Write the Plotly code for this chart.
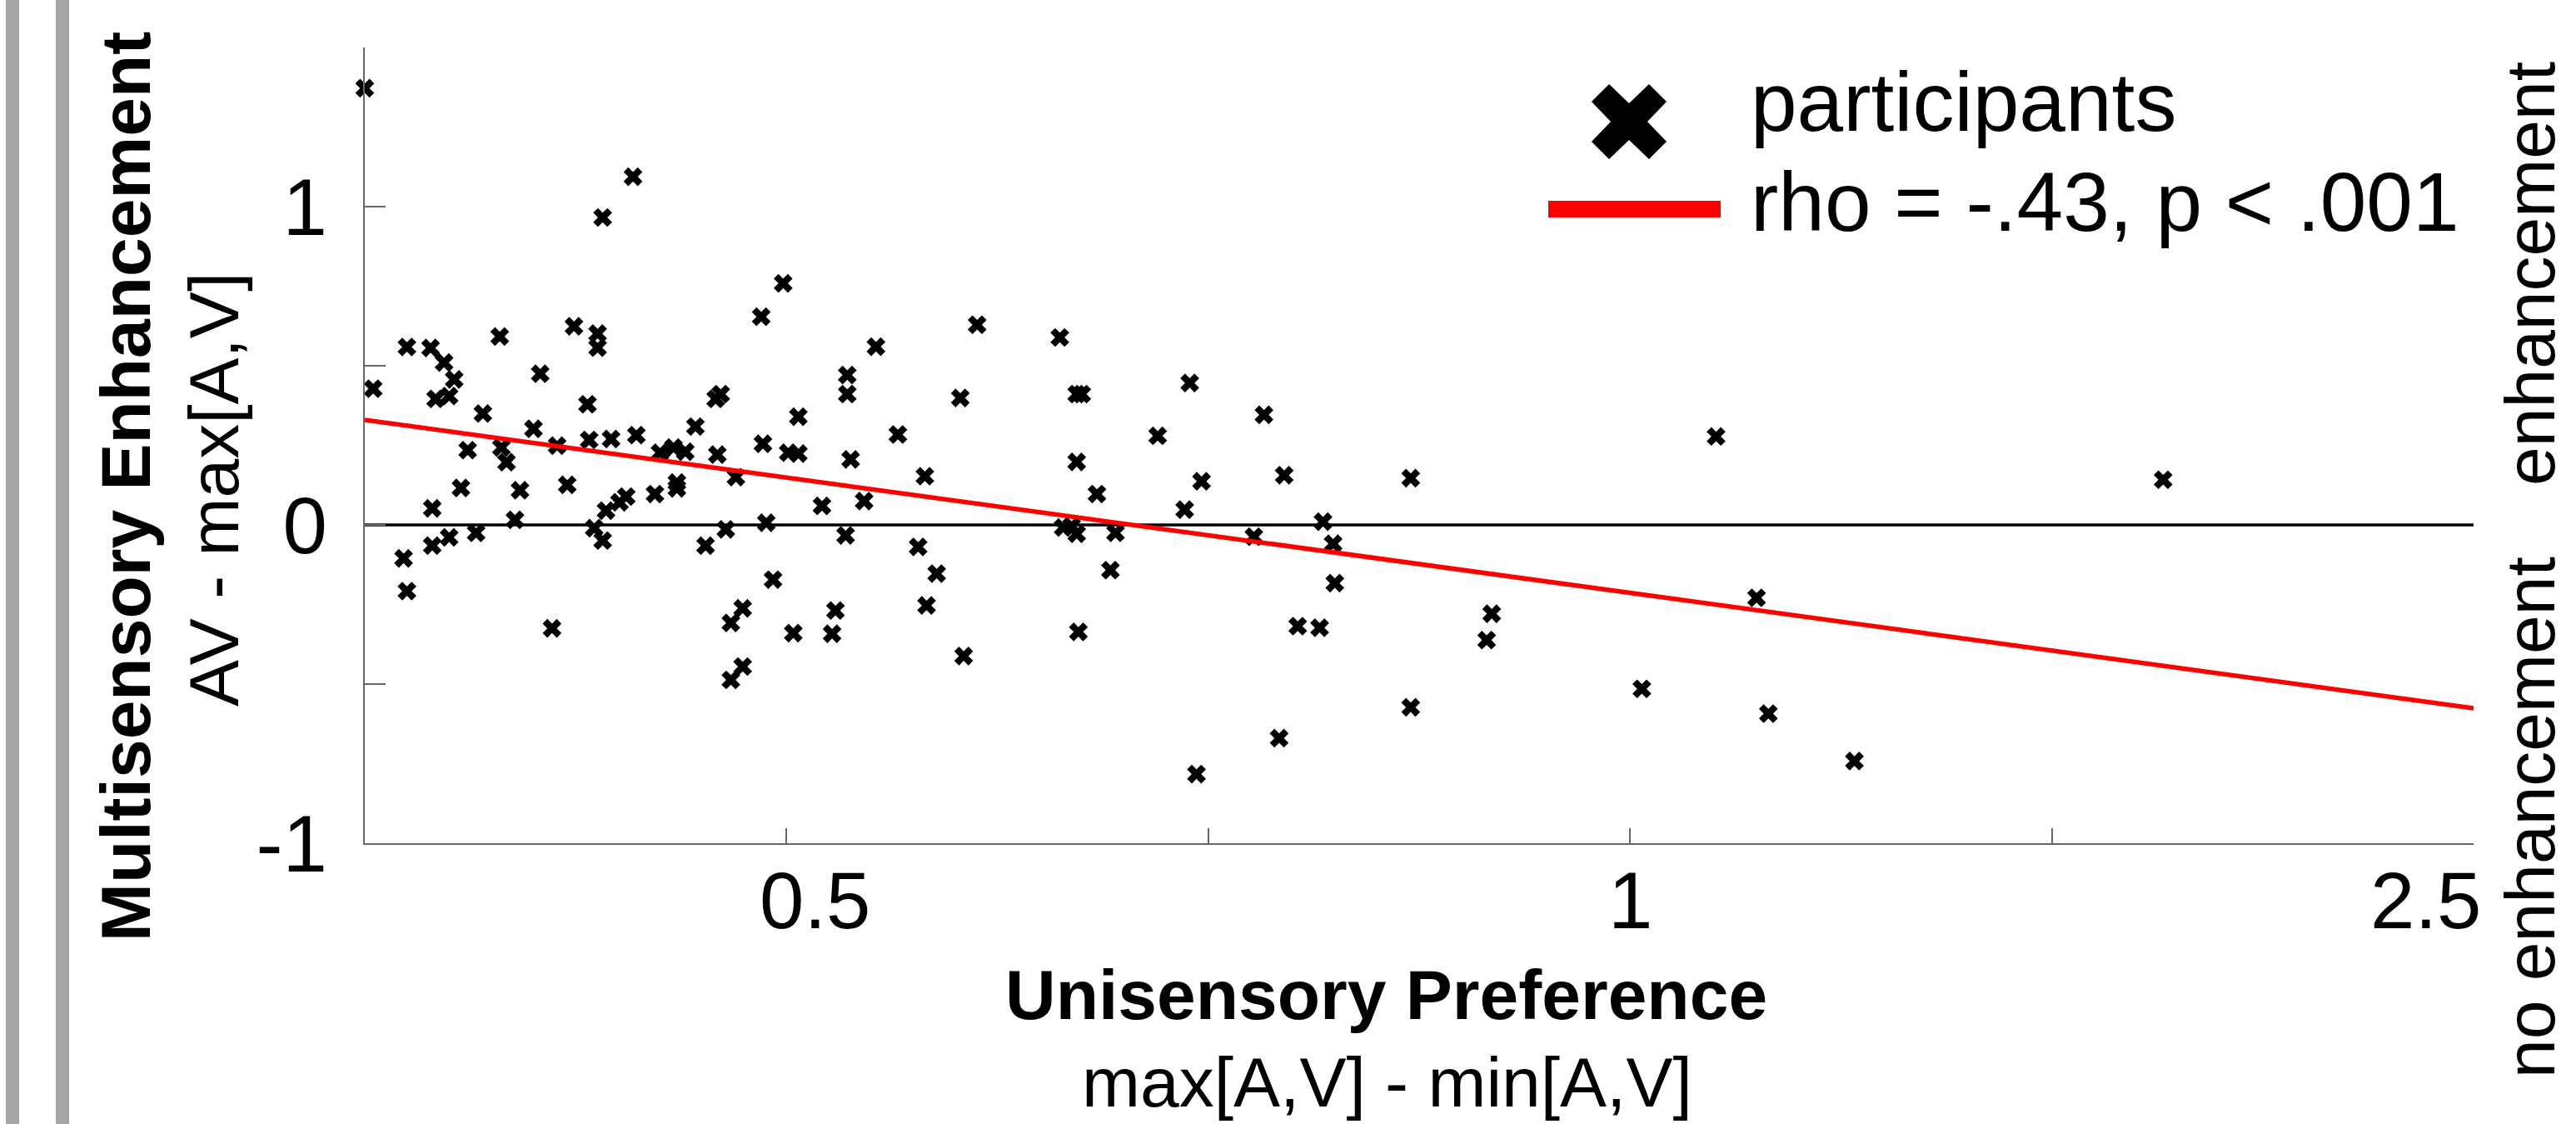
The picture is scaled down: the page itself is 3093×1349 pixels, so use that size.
import plotly.graph_objects as go

# ---------------- data ----------------
pref = [0.250, 0.409, 0.391, 0.498, 0.485, 0.613, 0.374, 0.330, 0.388, 0.388,
        0.275, 0.289, 0.553, 0.297, 0.303, 0.354, 0.255, 0.292, 0.300, 0.536,
        0.536, 0.603, 0.382, 0.458, 0.461, 0.507, 0.320, 0.350, 0.566, 0.383,
        0.396, 0.411, 0.446, 0.311, 0.331, 0.364, 0.425, 0.433, 0.440, 0.459,
        0.486, 0.501, 0.507, 0.538, 0.334, 0.470, 0.582, 0.307, 0.342, 0.370,
        0.290, 0.393, 0.401, 0.405, 0.422, 0.435, 0.435, 0.521, 0.546, 0.339,
        0.488, 0.273, 0.290, 0.300, 0.316, 0.386, 0.391, 0.452, 0.464, 0.535,
        0.578, 0.589, 0.492,
        0.275, 0.361, 0.474, 0.467, 0.504, 0.529, 0.527, 0.583, 0.474, 0.467, 0.605,
        0.662, 0.672, 0.675, 0.739, 0.783, 0.720, 0.672, 0.684, 0.746, 0.795,
        0.870, 0.736, 0.818, 0.664, 0.669, 0.672, 0.695, 0.777, 0.824, 0.692, 0.825,
        0.673, 0.803, 0.816, 0.918, 0.915, 0.870, 0.792, 0.743, 1.007,
        1.316, 1.075, 1.082, 1.133, 1.051]
enh = [1.372, 1.094, 0.966, 0.759, 0.654, 0.629, 0.624, 0.592, 0.601, 0.557,
       0.559, 0.556, 0.560, 0.510, 0.457, 0.475, 0.428, 0.396, 0.405, 0.471,
       0.411, 0.399, 0.379, 0.396, 0.411, 0.340, 0.350, 0.302, 0.284, 0.267,
       0.270, 0.282, 0.309, 0.235, 0.243, 0.249, 0.227, 0.243, 0.230, 0.221,
       0.255, 0.227, 0.224, 0.206, 0.197, 0.150, 0.153, 0.116, 0.109, 0.126,
       0.052, 0.045, 0.071, 0.089, 0.097, 0.133, 0.115, 0.060, 0.075, 0.016,
       0.007, -0.105, -0.065, -0.039, -0.025, -0.010, -0.049, -0.065, -0.014, -0.033,
       -0.069, -0.153, -0.172,
       -0.208, -0.325, -0.262, -0.308, -0.340, -0.269, -0.342, -0.253, -0.445, -0.487, -0.412,
       0.589, 0.411, 0.411, 0.446, 0.346, 0.280, 0.198, 0.097, 0.137, 0.156,
       0.147, 0.048, 0.010, -0.008, -0.004, -0.028, -0.025, -0.037, -0.059, -0.142, -0.183,
       -0.336, -0.318, -0.323, -0.279, -0.362, -0.573, -0.670, -0.783, -0.515,
       0.142, -0.229, -0.593, -0.742, 0.278]

fit_x = [0.25, 1.5]
fit_y = [0.33, -0.576]

xtick_marks = [0.25, 0.5, 0.75, 1.0, 1.25, 1.5]
xtick_vals = [0.5, 1.0, 1.5]
xtick_text = ["0.5", "1", "2.5"]
xtick_shift = [34, 0, -58]
ytick_vals = [-1, -0.5, 0, 0.5, 1]
ytick_text = ["-1", "", "0", "", "1"]

legend_labels = ["participants", "rho = -.43, p < .001"]

# ---------------- layout geometry (pixels) ----------------
W, H = 3093, 1349
PL, PR, PT, PB = 438, 2970, 57, 1012
FONT = "Liberation Sans, Arial, sans-serif"


def xp(x):
    return (x - PL) / (PR - PL)


def yp(y):
    return (PB - y) / (PB - PT)


fig = go.Figure()

fig.add_trace(go.Scatter(
    x=pref, y=enh, mode="markers", cliponaxis=False, showlegend=False,
    marker=dict(symbol="x", size=20, color="black", line=dict(width=0)),
))
fig.add_trace(go.Scatter(
    x=[xtick_marks[0], xtick_marks[-1]], y=[0, 0], mode="lines", showlegend=False,
    line=dict(color="black", width=3.5),
))
fig.add_trace(go.Scatter(
    x=fit_x, y=fit_y, mode="lines", showlegend=False,
    line=dict(color="#ff0000", width=5.5),
))

shapes = []
# decorative grey stripes on the left edge
for x0, x1 in [(7, 23), (67, 83)]:
    shapes.append(dict(type="rect", xref="paper", yref="paper",
                       x0=xp(x0), x1=xp(x1), y0=yp(H), y1=yp(0),
                       fillcolor="#a6a6a6", line=dict(width=0), layer="below"))

# legend: big X marker
cx, cy, h, t, n = 1956, 146, 45, 21, 22
pts = [(cx, cy - n), (cx + h - t, cy - h), (cx + h, cy - h + t), (cx + n, cy),
       (cx + h, cy + h - t), (cx + h - t, cy + h), (cx, cy + n), (cx - h + t, cy + h),
       (cx - h, cy + h - t), (cx - n, cy), (cx - h, cy - h + t), (cx - h + t, cy - h)]
path = "M " + " L ".join(f"{xp(a):.5f},{yp(b):.5f}" for a, b in pts) + " Z"
shapes.append(dict(type="path", xref="paper", yref="paper", path=path,
                   fillcolor="black", line=dict(width=0)))
# legend: red line
shapes.append(dict(type="line", xref="paper", yref="paper",
                   x0=xp(1859), x1=xp(2066), y0=yp(251), y1=yp(251),
                   line=dict(color="#ff0000", width=20)))

annotations = []
# legend text
for lab, cyy in zip(legend_labels, [157 - 35, 277 - 35]):
    annotations.append(dict(xref="paper", yref="paper", x=xp(2100), y=yp(cyy),
                            xanchor="left", yanchor="middle", showarrow=False,
                            text=lab, font=dict(family=FONT, size=100, color="black")))
# x tick labels
for v, tx, sh in zip(xtick_vals, xtick_text, xtick_shift):
    annotations.append(dict(xref="x", yref="paper", x=v, y=yp(1080), xshift=sh,
                            xanchor="center", yanchor="middle", showarrow=False,
                            text=tx, font=dict(family=FONT, size=96, color="black")))
# axis titles
annotations += [
    dict(xref="paper", yref="paper", x=xp(1664), y=yp(1194), showarrow=False,
         xanchor="center", yanchor="middle", text="<b>Unisensory Preference</b>",
         font=dict(family=FONT, size=84, color="black")),
    dict(xref="paper", yref="paper", x=xp(1665), y=yp(1299), showarrow=False,
         xanchor="center", yanchor="middle", text="max[A,V] - min[A,V]",
         font=dict(family=FONT, size=84, color="black")),
    dict(xref="paper", yref="paper", x=xp(151), y=yp(584), showarrow=False,
         xanchor="center", yanchor="middle", textangle=-90,
         text="<b>Multisensory Enhancement</b>",
         font=dict(family=FONT, size=84, color="black")),
    dict(xref="paper", yref="paper", x=xp(257), y=yp(588), showarrow=False,
         xanchor="center", yanchor="middle", textangle=-90,
         text="AV - max[A,V]",
         font=dict(family=FONT, size=84, color="black")),
    dict(xref="paper", yref="paper", x=xp(3038), y=yp(329), showarrow=False,
         xanchor="center", yanchor="middle", textangle=-90,
         text="enhancement",
         font=dict(family=FONT, size=84, color="black")),
    dict(xref="paper", yref="paper", x=xp(3038), y=yp(981), showarrow=False,
         xanchor="center", yanchor="middle", textangle=-90,
         text="no enhancement",
         font=dict(family=FONT, size=84, color="black")),
]

fig.update_layout(
    width=W, height=H,
    margin=dict(l=PL, r=W - PR, t=PT, b=H - PB, autoexpand=False),
    paper_bgcolor="white", plot_bgcolor="white",
    showlegend=False,
    shapes=shapes, annotations=annotations,
    font=dict(family=FONT, color="black"),
)
fig.update_xaxes(
    range=[xtick_marks[0], xtick_marks[-1]], showgrid=False, zeroline=False,
    showline=True, linecolor="#666666", linewidth=2,
    tickmode="array", tickvals=xtick_marks, showticklabels=False,
    ticks="inside", ticklen=18, tickwidth=2, tickcolor="#666666",
)
fig.update_yaxes(
    range=[-1, 1.5], showgrid=False, zeroline=False,
    showline=True, linecolor="#666666", linewidth=2,
    tickmode="array", tickvals=ytick_vals, ticktext=ytick_text,
    ticks="inside", ticklen=25, tickwidth=2, tickcolor="#666666",
    tickfont=dict(family=FONT, size=96, color="black"),
    ticklabelstandoff=24,
)

fig.write_html("out.html")
